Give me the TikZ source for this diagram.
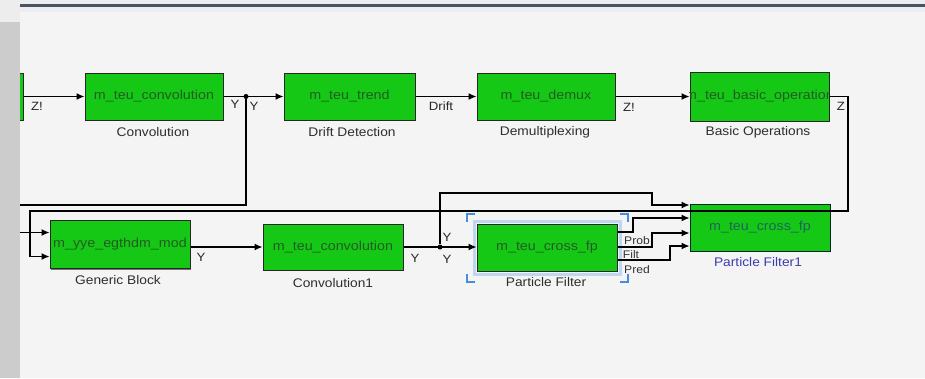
\documentclass[tikz,border=0pt]{standalone}
\usepackage{fontspec}
\setmainfont{Liberation Sans}[FakeStretch=1.1]
\usepackage{xcolor}
\usepackage{tikz}
\usetikzlibrary{arrows.meta, shadows}

\definecolor{canvas}{RGB}{244,244,244}
\definecolor{stripgrey}{RGB}{204,204,204}
\definecolor{hdrdark}{RGB}{76,82,94}
\definecolor{hdrlight}{RGB}{234,237,242}
\definecolor{simgreen}{RGB}{22,200,22}
\definecolor{simtext}{RGB}{34,92,34}
\definecolor{pftext}{RGB}{30,100,92}
\definecolor{pflabel}{RGB}{60,60,175}
\definecolor{selblue}{RGB}{72,142,222}
\definecolor{selglow}{RGB}{190,215,240}

\tikzset{
  block/.style={draw=black!85, line width=1pt, fill=simgreen,
    minimum width=138pt, minimum height=47pt, inner sep=0pt,
    text=simtext, font=\fontsize{13}{13}\selectfont,
    drop shadow={shadow xshift=1.2pt, shadow yshift=-1.2pt, fill=black!55, opacity=1}},
  blocktext/.style={text=simtext, font=\fontsize{13}{13}\selectfont, inner sep=0pt},
  caption/.style={text=black!82, font=\fontsize{12.5}{12.5}\selectfont},
  portlbl/.style={text=black!85, font=\fontsize{12}{12}\selectfont},
  smallport/.style={text=black!80, font=\fontsize{11}{11}\selectfont},
  link/.style={draw=black, line width=1.2pt},
  wire/.style={link, -{Latex[length=8pt,width=7pt]}},
  junc/.style={circle, fill=black, inner sep=0pt, minimum size=5pt},
  selmark/.style={draw=selblue, line width=2pt},
}

\begin{document}
\begin{tikzpicture}[x=1pt, y=-1pt]
    \useasboundingbox (0,0) rectangle (925,378);
    % Nền và khung cửa sổ
    \fill[canvas] (0,0) rectangle (925,378);
    \fill[hdrlight] (0,0) rectangle (925,4);
    \fill[hdrdark] (20,4) rectangle (925,7);
    \fill[hdrlight] (20,7) rectangle (925,12);

    % Hàng trên
    \node[block, minimum width=40pt] (prev) at (3,96.5) {};
    \node[block] (conv) at (154,96.5) {m\_teu\_convolution};
    \node[block, minimum width=131pt] (drift) at (349.5,96.5) {m\_teu\_trend};
    \node[block] (demux) at (546,96.5) {m\_teu\_demux};
    \node[block, minimum width=139pt, minimum height=49pt] (basic) at (759.5,96.5) {};
    \begin{scope}
        \clip (basic.south west) rectangle (basic.north east);
        \node[blocktext] (basictext) at (basic) {m\_teu\_basic\_operation};
    \end{scope}

    \node[caption] (convcap) at (153,132) {Convolution};
    \node[caption] (driftcap) at (352,132) {Drift Detection};
    \node[caption] (demuxcap) at (545,132) {Demultiplexing};
    \node[caption] (basiccap) at (758,132) {Basic Operations};

    % Hàng dưới
    \node[block, minimum width=140pt, minimum height=48pt] (generic) at (120,244.5) {m\_yye\_egthdm\_mod};
    \node[block, minimum width=140pt, minimum height=46pt] (conv1) at (333,247) {m\_teu\_convolution};
    \draw[selglow, line width=3pt] ([shift={(-3pt,3pt)}]477,224) rectangle ([shift={(3pt,-3pt)}]617,271);
    \node[block, minimum width=140pt] (pf) at (547,247.5) {m\_teu\_cross\_fp};
    \node[block, minimum width=140pt, text=pftext, draw=black!70!teal] (pf1) at (760,227.5) {m\_teu\_cross\_fp};

    \node[caption] (genericcap) at (118,280) {Generic Block};
    \node[caption] (conv1cap) at (333,283) {Convolution1};
    \node[caption] (pfcap) at (546,282) {Particle Filter};
    \node[caption, text=pflabel] (pf1cap) at (758,262) {Particle Filter1};

    % Khung chọn khối Particle Filter
    \foreach \c/\dx/\dy in {north west/1/-1, north east/-1/-1, south west/1/1, south east/-1/1} {
        \path ([shift={(-\dx*10pt,-\dy*10pt)}]pf.\c) coordinate (crn);
        \draw[selmark] ([yshift=\dy*8pt]crn) -- (crn) -- ([xshift=\dx*8pt]crn);
    }

    % Dây nối hàng trên
    \draw[wire] (prev.east) -- (conv.west);
    \draw[wire] (conv.east) -- (drift.west);
    \draw[wire] (drift.east) -- (demux.west);
    \draw[wire] (demux.east) -- (basic.west);
    \node[junc] (j1) at (246,96.5) {};
    \coordinate (lt1) at (0,205);
    \draw[link] (j1) |- (lt1);
    \draw[wire] (basic.east) -- (848,96.5) -- (848,211) -- (30,211) |- ([yshift=-12pt]generic.west);

    % Dây nối hàng dưới
    \coordinate (lt2) at (0,232.5);
    \draw[wire] (lt2) -- ([yshift=12pt]generic.west);
    \draw[wire] (generic.east |- conv1.west) -- (conv1.west);
    \draw[wire] (conv1.east) -- (conv1.east -| pf.west);
    \node[junc] (j2) at (440,247) {};
    \draw[wire] (j2) -- (440,193) -- (652,193) |- (pf1.west |- 0,205);
    \draw[wire] (pf.east |- 0,232) -- (633,232) |- (pf1.west |- 0,218);
    \draw[wire] (pf.east |- 0,247) -- (652,247) |- (pf1.west |- 0,233);
    \draw[wire] (pf.east |- 0,260) -- (670,260) |- (pf1.west |- 0,246);

    % Nhãn cổng
    \node[portlbl] (z1) at (37,106) {Z!};
    \node[portlbl] (y1) at (235,104) {Y};
    \node[portlbl] (y2) at (254,106) {Y};
    \node[portlbl] (drlbl) at (441,106) {Drift};
    \node[portlbl] (z2) at (629,107) {Z!};
    \node[portlbl] (z3) at (841,106) {Z};
    \node[portlbl] (y3) at (201,257) {Y};
    \node[portlbl] (y4) at (415,258) {Y};
    \node[portlbl] (y5) at (447,237) {Y};
    \node[portlbl] (y6) at (447,259) {Y};
    \node[smallport] (prob) at (637,241) {Prob};
    \node[smallport] (filt) at (631,255) {Filt};
    \node[smallport] (pred) at (637,270) {Pred};

    % Dải xám bên trái
    \fill[black!7] (0,0) rectangle (20,22);
    \fill[stripgrey] (0,22) rectangle (20,378);
\end{tikzpicture}
\end{document}
